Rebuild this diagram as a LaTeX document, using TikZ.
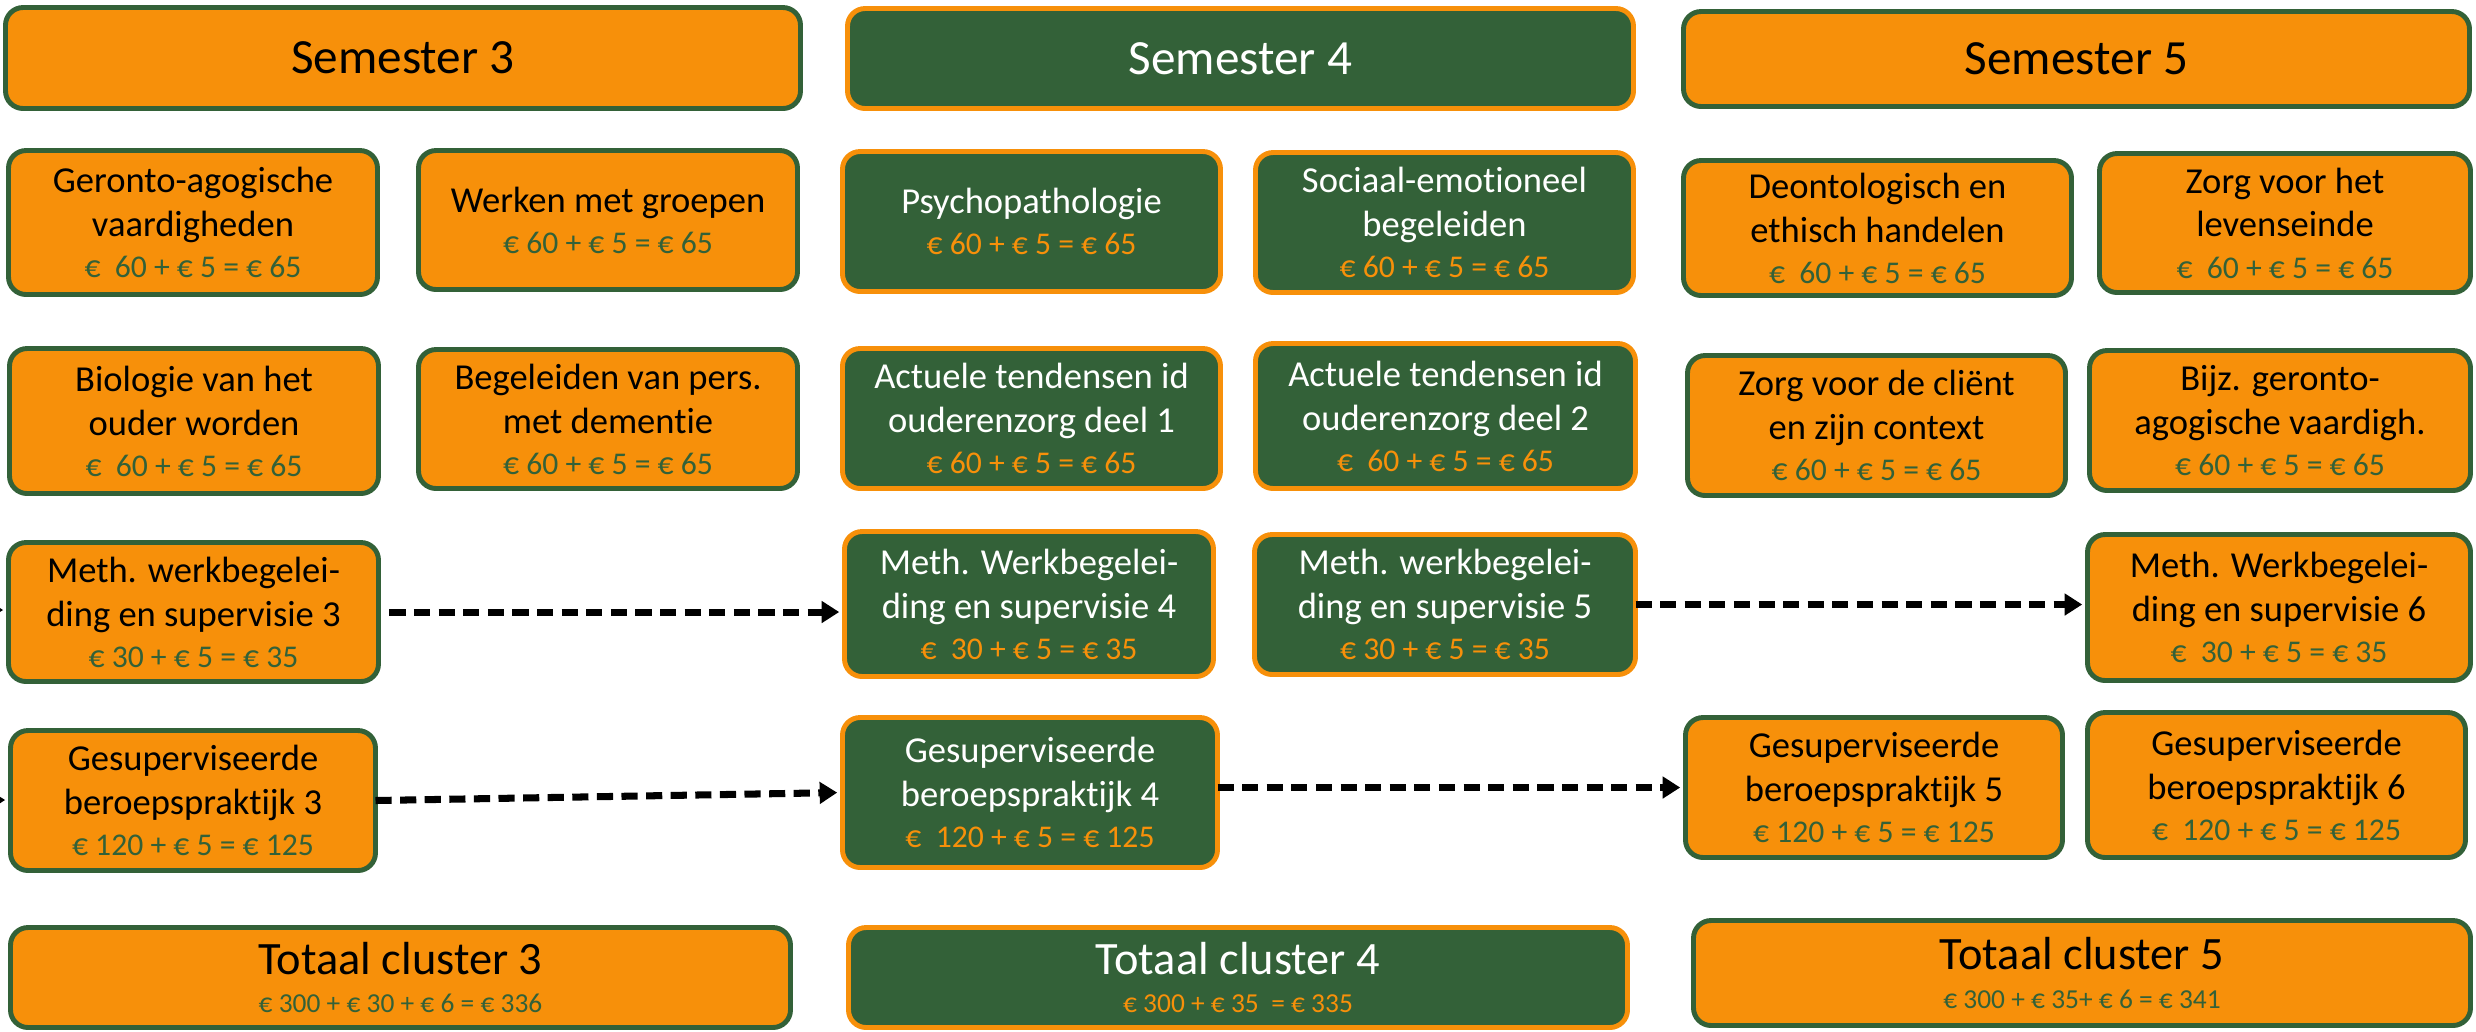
\documentclass[tikz,border=0pt]{standalone}
\usepackage{fontspec}
\setmainfont{Carlito}[Ligatures=NoCommon]
\usetikzlibrary{arrows.meta}
\definecolor{cor}{RGB}{247,144,10}
\definecolor{cgr}{RGB}{51,97,56}
\newcommand\pg[1]{{\fontsize{9}{10}\selectfont\color{cgr}#1}}
\newcommand\po[1]{{\fontsize{9}{10}\selectfont\color{cor}#1}}
\newcommand\tpg[1]{{\fontsize{7.8}{9}\selectfont\color{cgr}#1}}
\newcommand\tpo[1]{{\fontsize{7.8}{9}\selectfont\color{cor}#1}}
\newcommand\bx[7]{\node[#6, minimum width={(#4-#2-5)*0.1mm}, minimum height={(#5-#3-5)*0.1mm}] (#1) at ({(#2+#4)/2},{(#3+#5)/2}) {#7};}
\begin{document}
\begin{tikzpicture}[x=0.1mm,y=-0.1mm,
  base/.style={rounded corners=5pt, line width=1.4pt, inner sep=0pt, outer sep=0pt, align=center, font=\fontsize{10.4}{12.5}\selectfont},
  obox/.style={base, fill=cor, draw=cgr, text=black},
  gbox/.style={base, fill=cgr, draw=cor, text=white},
  head/.style={font=\fontsize{14}{16}\selectfont},
  tot/.style={font=\fontsize{13.2}{15}\selectfont},
  link/.style={line width=2pt, dash pattern=on 4.6pt off 2.4pt, shorten >=1.5pt, -{Triangle[length=5pt,width=6pt]}}
]
\clip (0,0) rectangle (2476,1031);
% headers
\bx{s3}{3}{5}{803}{111}{obox,head}{Semester 3}
\bx{s4}{845}{6}{1636}{111}{gbox,head}{Semester 4}
\bx{s5}{1681}{9}{2472}{109}{obox,head}{Semester 5}
% row 1
\bx{ga}{6}{148}{380}{297}{obox}{Geronto-agogische\\vaardigheden\\[-0.8pt]\pg{€~~60 + € 5 = € 65}}
\bx{wg}{416}{148}{800}{292}{obox}{Werken met groepen\\[-0.8pt]\pg{€ 60 + € 5 = € 65}}
\bx{pp}{840}{149}{1223}{294}{gbox}{Psychopathologie\\[-0.8pt]\po{€ 60 + € 5 = € 65}}
\bx{se}{1253}{150}{1636}{295}{gbox}{Sociaal-emotioneel\\begeleiden\\[-0.8pt]\po{€ 60 + € 5 = € 65}}
\bx{de}{1681}{158}{2074}{298}{obox}{Deontologisch en\\ethisch handelen\\[-0.8pt]\pg{€~~60 + € 5 = € 65}}
\bx{zl}{2097}{151}{2473}{295}{obox}{Zorg voor het\\levenseinde\\[-0.8pt]\pg{€~~60 + € 5 = € 65}}
% row 2
\bx{bi}{7}{346}{381}{496}{obox}{Biologie van het\\ouder worden\\[-0.8pt]\pg{€~~60 + € 5 = € 65}}
\bx{bd}{416}{347}{800}{491}{obox}{Begeleiden van pers.\\met dementie\\[-0.8pt]\pg{€ 60 + € 5 = € 65}}
\bx{a1}{840}{346}{1223}{491}{gbox}{Actuele tendensen id\\ouderenzorg deel 1\\[-0.8pt]\po{€ 60 + € 5 = € 65}}
\bx{a2}{1253}{341}{1638}{491}{gbox}{Actuele tendensen id\\ouderenzorg deel 2\\[-0.8pt]\po{€~~60 + € 5 = € 65}}
\bx{zc}{1685}{353}{2068}{498}{obox}{Zorg voor de cliënt\\en zijn context\\[-0.8pt]\pg{€ 60 + € 5 = € 65}}
\bx{bj}{2087}{348}{2473}{493}{obox}{Bijz. geronto-\\agogische vaardigh.\\[-0.8pt]\pg{€ 60 + € 5 = € 65}}
% row 3
\bx{m3}{6}{540}{381}{684}{obox}{Meth. werkbegelei-\\ding en supervisie 3\\[-0.8pt]\pg{€ 30 + € 5 = € 35}}
\bx{m4}{842}{529}{1216}{679}{gbox}{Meth. Werkbegelei-\\ding en supervisie 4\\[-0.8pt]\po{€~~30 + € 5 = € 35}}
\bx{m5}{1252}{532}{1638}{677}{gbox}{Meth. werkbegelei-\\ding en supervisie 5\\[-0.8pt]\po{€ 30 + € 5 = € 35}}
\bx{m6}{2085}{532}{2473}{683}{obox}{Meth. Werkbegelei-\\ding en supervisie 6\\[-0.8pt]\pg{€~~30 + € 5 = € 35}}
% row 4
\bx{g3}{8}{728}{378}{873}{obox}{Gesuperviseerde\\beroepspraktijk 3\\[-0.8pt]\pg{€ 120 + € 5 = € 125}}
\bx{g4}{840}{715}{1220}{870}{gbox}{Gesuperviseerde\\beroepspraktijk 4\\[-0.8pt]\po{€~~120 + € 5 = € 125}}
\bx{g5}{1683}{715}{2065}{860}{obox}{Gesuperviseerde\\beroepspraktijk 5\\[-0.8pt]\pg{€ 120 + € 5 = € 125}}
\bx{g6}{2085}{710}{2468}{860}{obox}{Gesuperviseerde\\beroepspraktijk 6\\[-0.8pt]\pg{€~~120 + € 5 = € 125}}
% totals
\bx{t3}{8}{925}{793}{1030}{obox,tot}{Totaal cluster 3\\[-4pt]\tpg{€ 300 + € 30 + € 6 = € 336}}
\bx{t4}{846}{925}{1630}{1030}{gbox,tot}{Totaal cluster 4\\[-4pt]\tpo{€ 300 + € 35~~= € 335}}
\bx{t5}{1691}{918}{2473}{1028}{obox,tot}{Totaal cluster 5\\[-4pt]\tpg{€ 300 + € 35+ € 6 = € 341}}
% connectors
\coordinate (l1) at (-80,610);
\coordinate (l2) at (-80,800);
\draw[link] (l1) -- (l1 -| m3.west);
\draw[link] (l2) -- (l2 -| g3.west);
\draw[link] ([xshift=3.1pt]m3.east) -- (m3.east -| m4.west);
\draw[link] (m5.east) -- (m5.east -| m6.west);
\draw[link] (g3.east) -- (g4.west);
\draw[link] (g4.east |- g5.west) -- (g5.west);
\end{tikzpicture}
\end{document}
